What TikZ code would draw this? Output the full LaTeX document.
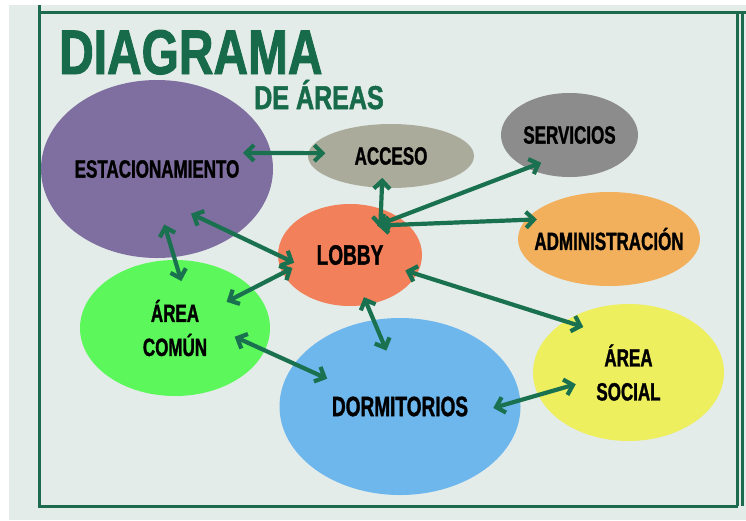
\documentclass[tikz,border=0pt]{standalone}
\usepackage{fontspec}
\usetikzlibrary{arrows.meta,shapes.geometric}
\newfontfamily\labelfont[FakeStretch=0.68, BoldFeatures={FakeBold=1.2}]{Liberation Sans}
\newfontfamily\titlefont[FakeStretch=0.76, BoldFeatures={FakeBold=1.5}]{Liberation Sans}
\definecolor{pagegray}{HTML}{E3ECE9}
\definecolor{framegreen}{HTML}{1D6B4F}
\definecolor{titlegreen}{HTML}{186B4A}
\definecolor{arrowgreen}{HTML}{19714F}
\definecolor{estaccol}{HTML}{7F6FA0}
\definecolor{accesocol}{HTML}{ABAB9B}
\definecolor{servcol}{HTML}{8C8C8C}
\definecolor{lobbycol}{HTML}{F2805A}
\definecolor{admincol}{HTML}{F2B05C}
\definecolor{comuncol}{HTML}{5CF75A}
\definecolor{dormcol}{HTML}{6DB7ED}
\definecolor{socialcol}{HTML}{EEEF5F}
\begin{document}
\begin{tikzpicture}[x=1pt,y=-1pt]
\tikzstyle{zone}=[ellipse, inner sep=-40pt, outer sep=0pt, align=center, font=\labelfont\bfseries\fontsize{25}{34}\selectfont]
\tikzstyle{connect}=[{Straight Barb[length=8pt,width=16pt]}-{Straight Barb[length=8pt,width=16pt]}, line width=4.2pt, draw=arrowgreen]
\tikzstyle{frame}=[line width=3pt, draw=framegreen]
\tikzstyle{title}=[inner sep=0pt, anchor=base west, text=titlegreen]
  \useasboundingbox (0,0) rectangle (746,520);
  \fill[pagegray] (9,5) rectangle (746,520);
  \draw[frame] (39,5) -- (39,506) -- (737.5,506);
  \draw[frame] (39,12) -- (746,12);
  \draw[frame] (737.5,12) -- (737.5,506);
  \draw[frame, line width=2.5pt] (742.5,12) -- (742.5,506);

  \node[title, font=\titlefont\bfseries\fontsize{63}{63}\selectfont] (diagrama) at (59,74) {DIAGRAMA};
  \node[title, font=\titlefont\bfseries\fontsize{33}{33}\selectfont] (deareas) at (254,109) {DE ÁREAS};

  \node[zone, fill=estaccol, minimum width=232pt, minimum height=178pt] (estac) at (157,169) {ESTACIONAMIENTO};
  \node[zone, fill=accesocol, minimum width=166pt, minimum height=64pt] (acceso) at (391,156) {ACCESO};
  \node[zone, fill=servcol, minimum width=137pt, minimum height=84pt] (servicios) at (569.5,135) {SERVICIOS};
  \node[zone, fill=lobbycol, minimum width=144pt, minimum height=102pt, font=\labelfont\bfseries\fontsize{28}{30}\selectfont] (lobby) at (350,255) {LOBBY};
  \node[zone, fill=admincol, minimum width=182pt, minimum height=94pt] (admin) at (609,239) {ADMINISTRACIÓN};
  \node[zone, fill=comuncol, minimum width=190pt, minimum height=136pt] (comun) at (175,328) {ÁREA\\COMÚN};
  \node[zone, fill=dormcol, minimum width=241pt, minimum height=177pt, font=\labelfont\bfseries\fontsize{28}{30}\selectfont] (dorm) at (400,406.5) {DORMITORIOS};
  \node[zone, fill=socialcol, minimum width=191pt, minimum height=137pt] (social) at (628.5,372.5) {ÁREA\\SOCIAL};

  \path (estac.8) edge[connect, shorten <=-28pt, shorten >=-17pt] (acceso.178)
        (acceso.254) edge[connect, shorten <=-10pt, shorten >=-19pt] (lobby.56)
        (servicios.218) edge[connect, shorten <=-15pt, shorten >=-23pt] (lobby.38)
        (admin.167) edge[connect, shorten <=-11pt, shorten >=-30pt] (lobby.28);
  \path (estac.320) edge[connect, shorten <=-49pt, shorten >=-18pt] (lobby.180)
        (estac.281) edge[connect, shorten <=-34pt, shorten >=-22pt] (comun.90)
        (lobby.195) edge[connect, shorten <=-11pt, shorten >=-29pt] (comun.27);
  \path (lobby.289) edge[connect, shorten <=-8pt, shorten >=-33pt] (dorm.107)
        (comun.346) edge[connect, shorten <=-33pt, shorten >=-36pt] (dorm.158)
        (lobby.344) edge[connect, shorten <=-12pt, shorten >=-19pt] (social.141)
        (dorm.3) edge[connect, shorten <=-28pt, shorten >=-39pt] (social.194);
\end{tikzpicture}
\end{document}
